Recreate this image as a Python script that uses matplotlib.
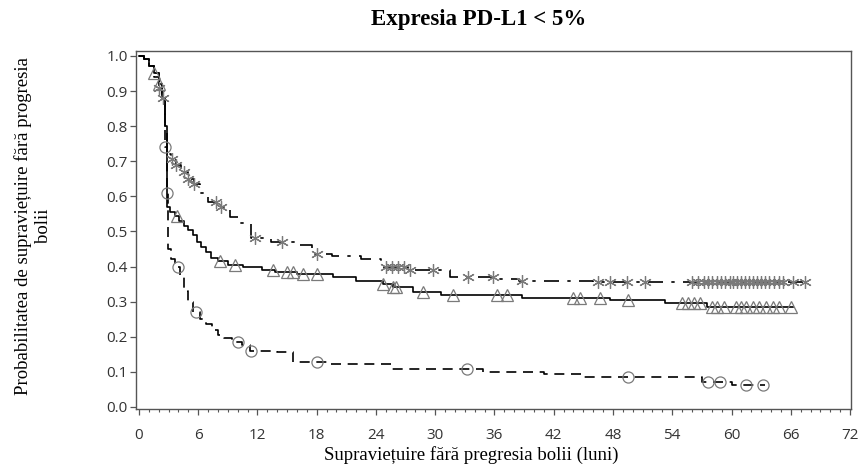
import numpy as np
import matplotlib
matplotlib.use("Agg")
import matplotlib.pyplot as plt
from matplotlib.ticker import MultipleLocator

# ---- data ----
# Group A: dash-dot line, asterisk censor marks
t_a = [0, 0.5, 1.0, 1.5, 2.0, 2.3, 2.6, 2.8, 3.2, 3.8, 4.3, 5.0, 5.6, 6.2, 7.0, 8.3, 9.2,
       10.2, 11.3, 13.4, 16.2, 17.5, 19.5, 22.5, 24.5, 27.2, 31.5, 36.5, 38.5, 46.0]
s_a = [1.0, 0.99, 0.97, 0.94, 0.91, 0.88, 0.78, 0.72, 0.705, 0.69, 0.67, 0.65, 0.635, 0.61,
       0.585, 0.57, 0.54, 0.525, 0.48, 0.47, 0.46, 0.435, 0.43, 0.42, 0.40, 0.39, 0.37, 0.365,
       0.36, 0.355]
end_a = 68.0
cens_a = [2.0, 2.4, 3.3, 3.8, 4.6, 5.0, 5.6, 7.8, 8.3, 11.8, 14.5, 18.0, 25.0, 25.6, 26.2,
          26.8, 27.4, 29.8, 33.3, 35.8, 38.8, 46.5, 47.7, 49.4, 51.2, 56.0, 56.6, 57.2, 57.6,
          58.0, 58.5, 58.9, 59.3, 59.8, 60.2, 60.6, 61.0, 61.4, 61.8, 62.2, 62.6, 63.0, 63.4,
          63.8, 64.3, 64.8, 65.2, 66.2, 67.4]

# Group B: solid line, triangle censor marks
t_b = [0, 0.5, 1.0, 1.5, 2.0, 2.3, 2.6, 2.8, 3.1, 3.6, 4.1, 4.6, 5.0, 5.5, 5.9, 6.3, 6.8,
       7.3, 8.0, 9.0, 10.5, 12.5, 13.8, 16.0, 19.6, 22.0, 24.7, 25.7, 27.7, 30.6, 38.8,
       47.7, 53.3, 57.5]
s_b = [1.0, 0.99, 0.97, 0.95, 0.92, 0.88, 0.80, 0.57, 0.555, 0.545, 0.53, 0.515, 0.505,
       0.49, 0.47, 0.455, 0.44, 0.425, 0.415, 0.405, 0.40, 0.39, 0.385, 0.38, 0.37, 0.36,
       0.35, 0.343, 0.328, 0.318, 0.31, 0.305, 0.295, 0.285]
end_b = 66.2
cens_b = [1.5, 2.0, 3.9, 8.2, 9.7, 13.6, 15.0, 15.6, 16.6, 18.0, 24.7, 25.7, 26.0, 28.8,
          31.8, 36.3, 37.3, 43.9, 44.7, 46.7, 49.5, 55.0, 55.6, 56.2, 56.8, 58.0, 58.5,
          59.2, 60.5, 61.0, 61.5, 62.2, 62.8, 63.5, 64.2, 64.8, 66.0]

# Group C: dashed line, circle censor marks
t_c = [0, 0.5, 1.0, 1.5, 2.0, 2.3, 2.6, 2.8, 2.9, 3.2, 3.6, 4.2, 4.6, 5.0, 5.5, 6.2, 6.8,
       7.4, 8.0, 8.6, 9.4, 10.4, 11.2, 14.0, 15.6, 19.0, 25.5, 34.8, 41.0, 45.0, 57.0, 60.0]
s_c = [1.0, 0.99, 0.97, 0.95, 0.92, 0.88, 0.74, 0.61, 0.45, 0.42, 0.40, 0.37, 0.33, 0.30,
       0.27, 0.25, 0.235, 0.22, 0.205, 0.195, 0.185, 0.175, 0.16, 0.155, 0.128, 0.122,
       0.107, 0.10, 0.094, 0.086, 0.07, 0.061]
end_c = 63.4
cens_c = [2.6, 2.8, 4.0, 5.8, 10.0, 11.3, 18.0, 33.2, 49.5, 57.6, 58.8, 61.5, 63.2]

x_ticks = [0, 6, 12, 18, 24, 30, 36, 42, 48, 54, 60, 66, 72]
y_ticks = [0.0, 0.1, 0.2, 0.3, 0.4, 0.5, 0.6, 0.7, 0.8, 0.9, 1.0]

title = "Expresia PD-L1 < 5%"
xlabel = "Supraviețuire fără pregresia bolii (luni)"
ylabel = "Probabilitatea de supraviețuire fără progresia\nbolii"

# ---- plot ----
W, H = 860, 470
fig = plt.figure(figsize=(8.6, 4.7), dpi=100)
ax = fig.add_axes([136 / W, 1 - 409 / H, (851 - 136) / W, (409 - 51) / H])


def surv_at(t, times, surv):
    idx = np.searchsorted(times, t, side="right") - 1
    return np.asarray(surv)[idx]


mk_color = "#7a7a7a"
groups = [
    (t_a, s_a, end_a, cens_a, (0, (9, 5, 2, 5)), (6, 2, 0), 9),
    (t_b, s_b, end_b, cens_b, "-", "^", 8),
    (t_c, s_c, end_c, cens_c, (0, (6, 4)), "o", 8),
]
for t, s, e, cens, ls, mk, ms in groups:
    tt = list(t) + [e]
    ss = list(s) + [s[-1]]
    ax.step(tt, ss, where="post", color="black", lw=1.2, linestyle=ls, zorder=3)
    cy = surv_at(np.array(cens), np.array(t), s)
    if mk in ("o", "^"):
        ax.plot(cens, cy, linestyle="none", marker=mk, ms=ms, mfc="none",
                mec=mk_color, mew=0.9, zorder=4)
    else:
        ax.plot(cens, cy, linestyle="none", marker=mk, ms=ms, color=mk_color,
                mew=0.9, zorder=4)

ax.set_xlim(-0.3, 72.1)
ax.set_ylim(-0.006, 1.014)
ax.set_xticks(x_ticks)
ax.set_yticks(y_ticks)
ax.set_yticklabels([f"{v:.1f}" for v in y_ticks])
ax.xaxis.set_minor_locator(MultipleLocator(1))

for sp in ax.spines.values():
    sp.set_color("#555555")
    sp.set_linewidth(1.0)

for lab in ax.get_xticklabels() + ax.get_yticklabels():
    lab.set_fontfamily("Open Sans")
    lab.set_fontsize(11)
    lab.set_color("#333333")
ax.tick_params(axis="both", which="major", direction="out", length=4.5, width=0.9,
               color="#555555")
ax.tick_params(axis="x", which="major", pad=9)
ax.tick_params(axis="y", which="major", pad=1.5)
ax.tick_params(axis="x", which="minor", direction="out", length=2.5, width=0.8,
               color="#555555")

fig.text(479 / W, 1 - 20 / H, title, fontfamily="Liberation Serif", fontweight="bold",
         fontsize=16.5, ha="center", va="center")
fig.text(471 / W, 1 - 455 / H, xlabel, fontfamily="Liberation Serif", fontsize=13.5,
         ha="center", va="center")
fig.text(33 / W, 1 - 226 / H, ylabel, fontfamily="Liberation Serif", fontsize=13.5,
         ha="center", va="center", rotation=90, multialignment="center",
         linespacing=1.2)

fig.savefig("out.png", dpi=100)
